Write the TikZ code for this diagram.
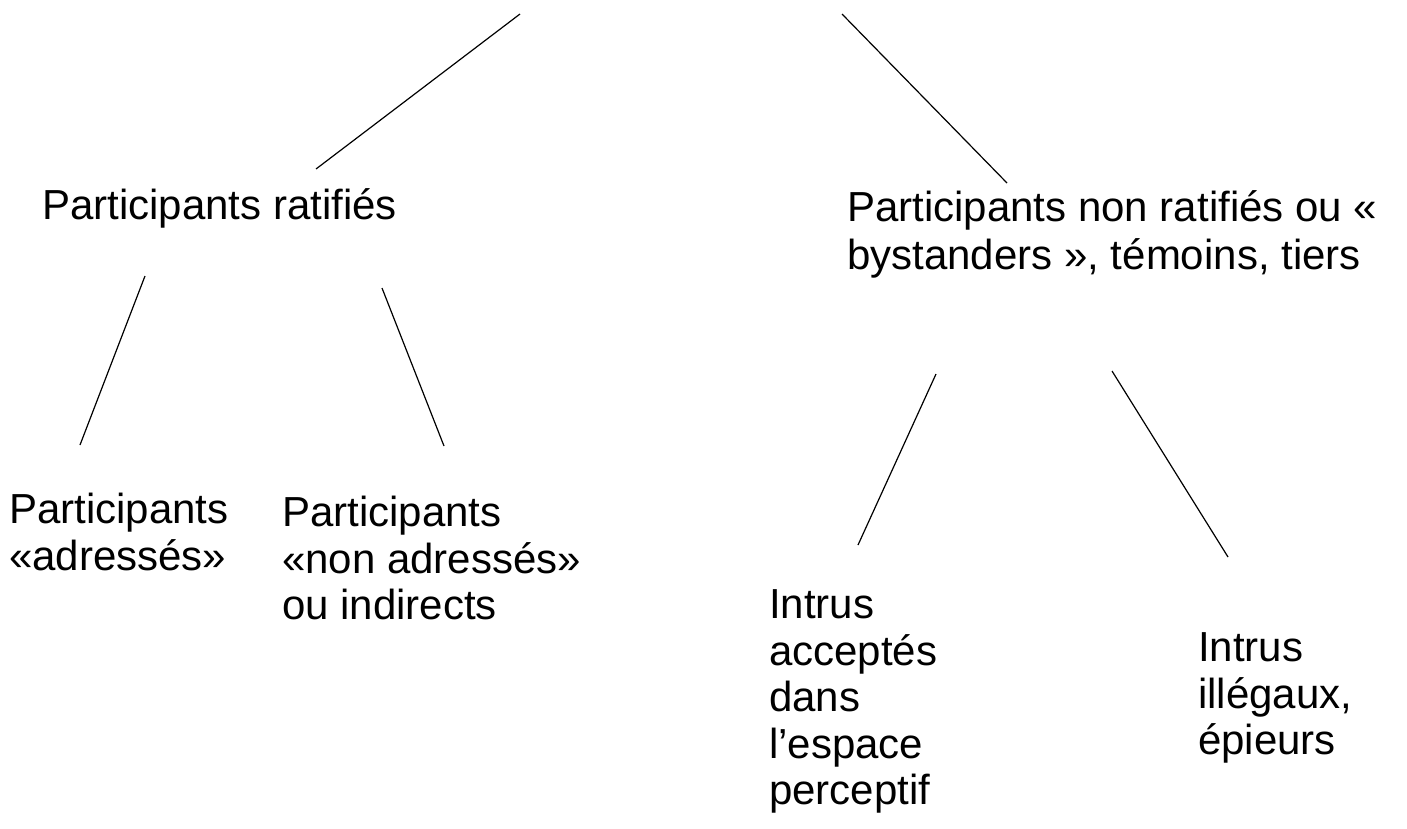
\documentclass[tikz,border=0pt]{standalone}
\usepackage{fontspec}
\setmainfont{Liberation Sans}
\begin{document}
\begin{tikzpicture}[x=1pt,y=-1pt,
  lbl/.style={anchor=north west,inner sep=0pt,align=left,font=\fontsize{42}{46.5}\selectfont},
  lblwide/.style={lbl,font=\fontsize{42}{48}\selectfont},
  branch/.style={draw=black,line width=1.2pt}]
\useasboundingbox[fill=white] (0,0) rectangle (1407,828);
% top free ends
\coordinate (t1) at (520,14);
\coordinate (t2) at (842,14);
% text nodes (top = first baseline - 0.7*baselineskip)
\node[lbl] (rat) at (42,187) {\strut Participants ratifiés};
\node[lblwide] (nrat) at (847,187.4) {\strut Participants non ratifiés ou «\\bystanders », témoins, tiers};
\node[lbl] (adr) at (9,491) {\strut Participants\\«adressés»};
\node[lbl] (nadr) at (282,494) {\strut Participants\\«non adressés»\\ou indirects};
\node[lbl] (acc) at (769,586) {\strut Intrus\\acceptés\\dans\\l’espace\\perceptif};
\node[lbl] (ill) at (1198,629) {\strut Intrus\\illégaux,\\épieurs};
% connector end points
\coordinate (a1) at (316,169);
\coordinate (b1) at (1007,183);
\coordinate (c0) at (145,276);
\coordinate (c1) at (80,445);
\coordinate (d0) at (382,288);
\coordinate (d1) at (444,446);
\coordinate (e0) at (936,374);
\coordinate (e1) at (858,545);
\coordinate (f0) at (1112,371);
\coordinate (f1) at (1228,557);
\draw[branch] (t1) -- (a1);
\draw[branch] (t2) -- (b1);
\draw[branch] (c0) -- (c1);
\draw[branch] (d0) -- (d1);
\draw[branch] (e0) -- (e1);
\draw[branch] (f0) -- (f1);
\end{tikzpicture}
\end{document}
